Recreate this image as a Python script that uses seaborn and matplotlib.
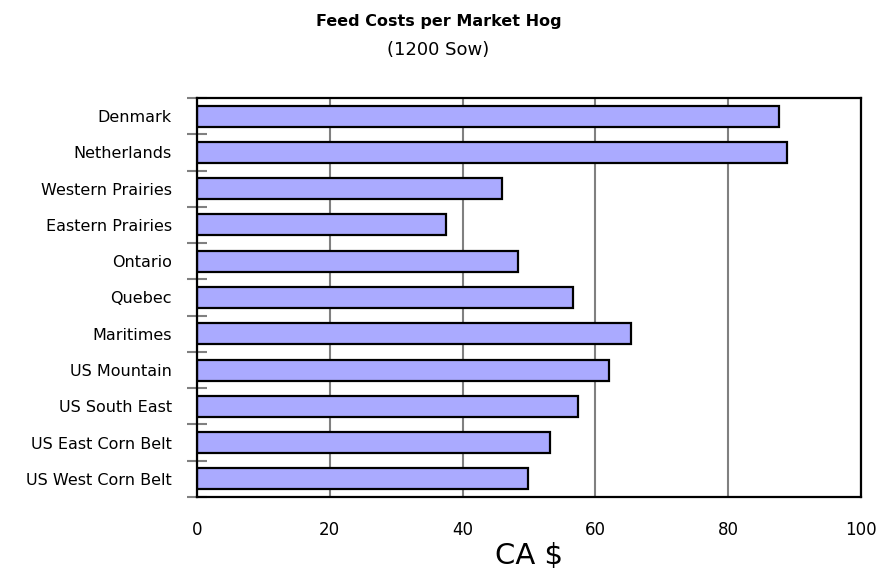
import matplotlib
matplotlib.use("Agg")
import matplotlib.pyplot as plt
from matplotlib.ticker import MultipleLocator, FixedLocator
import seaborn as sns
import pandas as pd

regions = [
    "Denmark", "Netherlands", "Western Prairies", "Eastern Prairies",
    "Ontario", "Quebec", "Maritimes", "US Mountain", "US South East",
    "US East Corn Belt", "US West Corn Belt",
]
feed_cost = [87.6, 88.8, 46.0, 37.5, 48.4, 56.6, 65.3, 62.0, 57.4, 53.2, 49.9]
x_ticks = [0, 20, 40, 60, 80, 100]

df = pd.DataFrame({"region": regions, "cost": feed_cost})

sns.set_theme(style="white")
plt.rcParams["font.family"] = ["DejaVu Sans"]

fig = plt.figure(figsize=(8.77, 5.75), dpi=100)
ax = fig.add_axes([0.2246, 0.1357, 0.7572, 0.6939])

sns.barplot(data=df, x="cost", y="region", orient="h", color="#AAAAFF",
            saturation=1, edgecolor="black", linewidth=1.6, width=0.58, ax=ax)

ax.set_xlim(0, 100)
ax.set_ylim(len(regions) - 0.5, -0.5)

# vertical grid behind the bars
ax.set_axisbelow(True)
ax.grid(axis="x", color="#808080", linewidth=1.5)
ax.grid(axis="y", visible=False)

for side in ["left", "right", "top", "bottom"]:
    ax.spines[side].set_visible(True)
    ax.spines[side].set_color("black")
    ax.spines[side].set_linewidth(1.6)

# x axis: labelled ticks every 20, minor crossing ticks in between
ax.xaxis.set_major_locator(FixedLocator(x_ticks))
ax.xaxis.set_minor_locator(MultipleLocator(10))
ax.tick_params(axis="x", which="major", direction="out", length=6, width=1.5,
               color="#808080", pad=11, labelsize=12, labelcolor="black")
ax.tick_params(axis="x", which="minor", direction="inout", length=8, width=1.5,
               color="#808080")

# y axis: labels centred on bars, crossing ticks at the category boundaries
ax.yaxis.set_minor_locator(FixedLocator([i - 0.5 for i in range(len(regions) + 1)]))
ax.tick_params(axis="y", which="major", length=0, pad=18, labelsize=11.5,
               labelcolor="black")
ax.tick_params(axis="y", which="minor", direction="inout", length=15, width=1.5,
               color="#808080", left=True)
ax.set_ylabel("")

ax.set_xlabel("CA $", fontsize=21, color="black")
ax.xaxis.label.set_va("center")
ax.xaxis.set_label_coords(0.5, -0.148)

fig.text(0.5, 0.963, "Feed Costs per Market Hog", ha="center", va="center",
         fontsize=11.5, fontweight="bold", color="black")
fig.text(0.5, 0.913, "(1200 Sow)", ha="center", va="center",
         fontsize=13, color="black")

fig.savefig("out.png", dpi=100, facecolor="white")
